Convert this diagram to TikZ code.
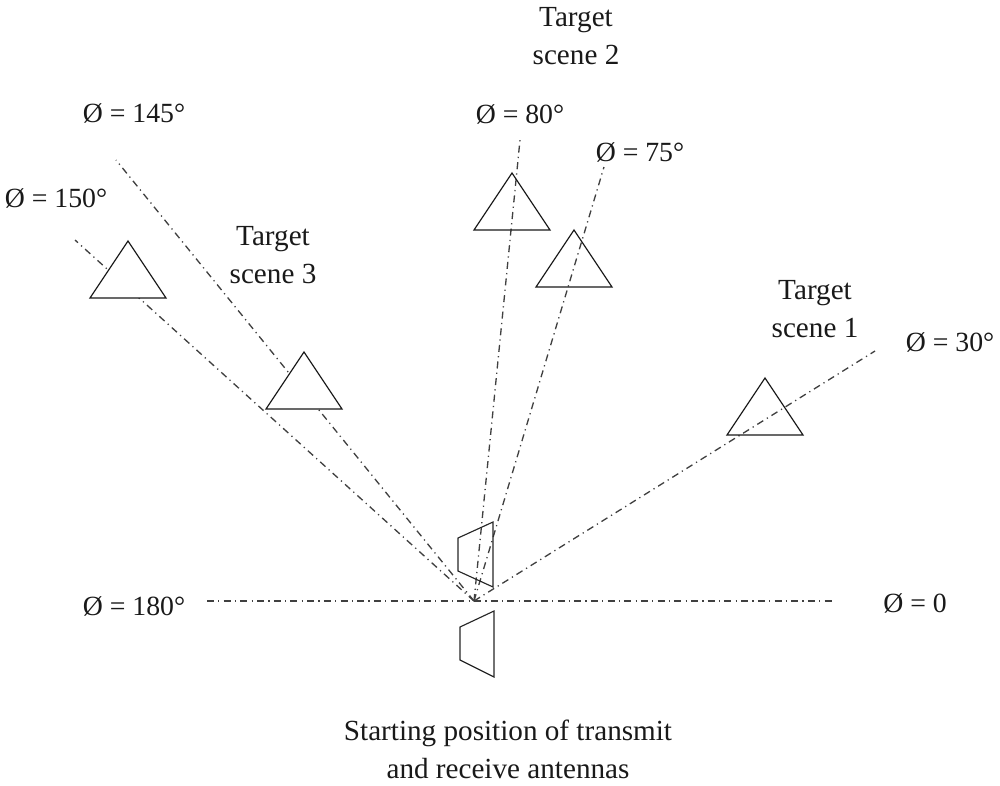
\documentclass[tikz,border=0pt]{standalone}
\usepackage{fontspec}
\setmainfont{Liberation Serif}
\tikzset{
	axe/.style={line width=0.75pt,dash pattern=on 4pt off 2.4pt on 0.7pt off 2.4pt,black!75},
	cible/.style={line width=0.65pt,black!90},
	antenne/.style={line width=0.65pt,black!85},
	titre/.style={font=\fontsize{16.6}{21.5}\selectfont,align=center,text=black!90},
	angle/.style={font=\fontsize{15.8}{18}\selectfont,text=black!90}
}
\begin{document}
\begin{tikzpicture}[x=0.02cm,y=-0.02cm]
	% Dimensions du cadre
	\def\xmin{0}
	\def\xmax{1000}
	\def\ymin{0}
	\def\ymax{785}
	\useasboundingbox (\xmin,\ymin) rectangle (\xmax,\ymax);
	% Origine et bouts des axes
	\coordinate (O) at (474,601);
	\coordinate (A0) at (835,601);
	\coordinate (A180) at (207,601);
	\coordinate (A30) at (875,351);
	\coordinate (A75) at (604,167);
	\coordinate (A80) at (520,140);
	\coordinate (A145) at (116,160);
	\coordinate (A150) at (75,240);
	% Axes
	\draw [axe] (A180)--(A0);
	\foreach \a in {30,75,80,145,150}
		\draw [axe] (O)--(A\a);
	% Cibles : les deux de gauche cachent leur axe
	\foreach \x/\y in {512/173,574/230,765/378}
		\draw [cible] (\x,\y)--(\x+38,\y+57)--(\x-38,\y+57)--cycle;
	\foreach \x/\y in {128/241,304/352}
		\draw [cible,fill=white] (\x,\y)--(\x+38,\y+57)--(\x-38,\y+57)--cycle;
	% Antennes
	\draw [antenne] (458,538)--(493,522)--(493,587)--(458,571)--cycle;
	\draw [antenne] (460,627)--(494,611)--(494,677)--(460,660)--cycle;
	% Angles
	\node [angle] (n145) at (134,113) {Ø = 145°};
	\node [angle] (n150) at (56,198) {Ø = 150°};
	\node [angle] (n80) at (520,114) {Ø = 80°};
	\node [angle] (n75) at (640,152) {Ø = 75°};
	\node [angle] (n30) at (950,342) {Ø = 30°};
	\node [angle] (n0) at (915,603) {Ø = 0};
	\node [angle] (n180) at (134,606) {Ø = 180°};
	% Annotations
	\node [titre] (s2) at (576,36) {Target\\scene 2};
	\node [titre] (s3) at (273,255) {Target\\scene 3};
	\node [titre] (s1) at (815,309) {Target\\scene 1};
	\node [titre] (depart) at (508,749) {Starting position of transmit\\and receive antennas};
\end{tikzpicture}
\end{document}
